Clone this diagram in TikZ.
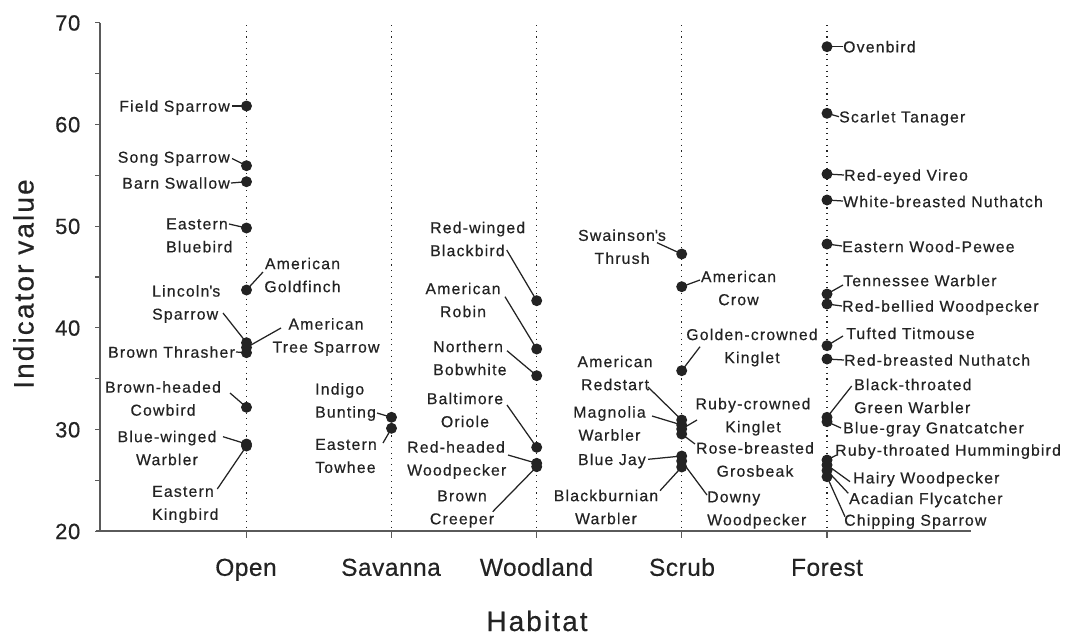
\documentclass[tikz,border=0pt]{standalone}
\usepackage{fontspec}
\setmainfont{Liberation Sans}
\newfontfamily\labfont[LetterSpace=7.5,FakeBold=0.5]{Liberation Sans}
\newfontfamily\axfont[LetterSpace=7.5,FakeBold=0.4]{Liberation Sans}
\newfontfamily\numfont[LetterSpace=3,FakeBold=0.4]{Liberation Sans}
\newfontfamily\catfont[LetterSpace=2,FakeBold=0.4]{Liberation Sans}
\definecolor{ink}{RGB}{35,35,35}
\definecolor{axcol}{RGB}{90,90,90}
\begin{document}
\begin{tikzpicture}[x=1pt,y=-1pt,
  lab/.style={inner sep=0pt, text=ink, font=\labfont\fontsize{15.8}{23}\selectfont},
  labL/.style={lab, align=left},
  labC/.style={lab, align=center},
  one/.style={lab, text height=11.4pt, text depth=0pt},
  dot/.style={circle, fill=ink, inner sep=0pt, minimum size=11pt},
  conn/.style={draw=ink, line width=1.25pt},
  guide/.style={draw=ink, line width=1.1pt, dash pattern=on 1.1pt off 4.6pt},
  axisline/.style={draw=axcol, line width=1.4pt},
  ticklab/.style={inner sep=0pt, text=ink, anchor=east, text height=15.7pt, text depth=0pt, font=\numfont\fontsize{22}{26}\selectfont},
  catlab/.style={inner sep=0pt, text=ink, text height=17.6pt, text depth=0pt, font=\catfont\fontsize{24.5}{28}\selectfont},
  titlelab/.style={inner sep=0pt, text=ink, text height=20pt, text depth=0pt, font=\axfont\fontsize{28}{32}\selectfont}
]
\useasboundingbox (0,0) rectangle (1065,635);

% guides
\foreach \gx in {246.5,391.5,536.7,681.7,827}{
  \draw[guide] (\gx,25) -- (\gx,529);
}

% axes
\draw[axisline] (95.5,531) -- (971,531);
\draw[axisline] (100,22.7) -- (100,531);
\foreach \v in {20,25,...,70}{
  \draw[axisline, line width=1.2pt] (95,{22.7+(70-\v)*10.17}) -- (100,{22.7+(70-\v)*10.17});
}
\foreach \gx in {246.5,391.5,536.7,681.7,827}{
  \draw[axisline, line width=1.2pt] (\gx,531) -- (\gx,537.5);
}
\foreach \v/\nm in {70/a,60/b,50/c,40/d,30/e,20/f}{
  \node[ticklab] (T-\nm) at (80.5,{22.7+(70-\v)*10.17}) {\v};
}
\node[catlab] (X-open) at (246,567) {Open};
\node[catlab] (X-sav) at (391,567) {Savanna};
\node[catlab] (X-wood) at (536.5,567) {Woodland};
\node[catlab] (X-scrub) at (682,567) {Scrub};
\node[catlab] (X-forest) at (827,567) {Forest};
\node[titlelab] (X-title) at (537,621) {Habitat};
\node[titlelab, rotate=90] (Y-title) at (23.5,284) {Indicator value};

% ---------- labels ----------
% Open
\node[one, anchor=east] (L-fs) at (230,106) {Field Sparrow};
\node[one, anchor=east] (L-ss) at (230,157) {Song Sparrow};
\node[one, anchor=east] (L-bs) at (230,183) {Barn Swallow};
\node[labL, anchor=west] (L-eb) at (166,235.5) {Eastern\\Bluebird};
\node[labC] (L-ag) at (302.5,275) {American\\Goldfinch};
\node[labL, anchor=west] (L-ls) at (152,304) {Lincoln\textquotesingle s\\Sparrow};
\node[labC] (L-ats) at (326,337) {American\\Tree Sparrow};
\node[one, anchor=east] (L-bt) at (235,352) {Brown Thrasher};
\node[labC] (L-bhc) at (163,398.5) {Brown-headed\\Cowbird};
\node[labC] (L-bww) at (167,448) {Blue-winged\\Warbler};
\node[labL, anchor=west] (L-ek) at (152,504.5) {Eastern\\Kingbird};
% Savanna
\node[labL, anchor=west] (L-ib) at (315,402) {Indigo\\Bunting};
\node[labL, anchor=west] (L-et) at (315,456) {Eastern\\Towhee};
% Woodland
\node[labL, anchor=west] (L-rwb) at (430,239) {Red-winged\\Blackbird};
\node[labC] (L-ar) at (463,300) {American\\Robin};
\node[labL, anchor=west] (L-nb) at (433,358) {Northern\\Bobwhite};
\node[labC] (L-bo) at (465,410) {Baltimore\\Oriole};
\node[labL, anchor=west] (L-rhw) at (407,460) {Red-headed\\Woodpecker};
\node[labC] (L-bc) at (462,509) {Brown\\Creeper};
% Scrub
\node[labC] (L-st) at (622,246.7) {Swainson\textquotesingle s\\Thrush};
\node[labC] (L-ac) at (738.5,288) {American\\Crow};
\node[labC] (L-gck) at (752,347.5) {Golden-crowned\\Kinglet};
\node[labC] (L-rs) at (615,373) {American\\Redstart};
\node[labC] (L-mw) at (609.5,423.5) {Magnolia\\Warbler};
\node[labC] (L-rck) at (753,416.7) {Ruby-crowned\\Kinglet};
\node[labC] (L-rbg) at (755,459.5) {Rose-breasted\\Grosbeak};
\node[one, anchor=east] (L-bj) at (646,459.3) {Blue Jay};
\node[labL, anchor=west] (L-dw) at (707,510) {Downy\\Woodpecker};
\node[labC] (L-bw) at (606,507) {Blackburnian\\Warbler};
% Forest
\node[one, anchor=west] (L-ov) at (843,46.7) {Ovenbird};
\node[one, anchor=west] (L-sct) at (839,116.7) {Scarlet Tanager};
\node[one, anchor=west] (L-rev) at (844,175) {Red-eyed Vireo};
\node[one, anchor=west] (L-wbn) at (843,201.5) {White-breasted Nuthatch};
\node[one, anchor=west] (L-ewp) at (842,246.5) {Eastern Wood-Pewee};
\node[one, anchor=west] (L-tw) at (843,280.5) {Tennessee Warbler};
\node[one, anchor=west] (L-rbw) at (842,306) {Red-bellied Woodpecker};
\node[one, anchor=west] (L-tt) at (846,333.3) {Tufted Titmouse};
\node[one, anchor=west] (L-rbn) at (844,360) {Red-breasted Nuthatch};
\node[labL, anchor=west] (L-btgw) at (854,396) {Black-throated\\Green Warbler};
\node[one, anchor=west] (L-bgg) at (843,427.7) {Blue-gray Gnatcatcher};
\node[one, anchor=west] (L-rth) at (835,450) {Ruby-throated Hummingbird};
\node[one, anchor=west] (L-hw) at (853,477.7) {Hairy Woodpecker};
\node[one, anchor=west] (L-af) at (849,498.3) {Acadian Flycatcher};
\node[one, anchor=west] (L-cs) at (844,520) {Chipping Sparrow};

% ---------- dots ----------
\foreach \nm/\px/\py in {
  fs/246.5/106, ss/246.5/165.7, bs/246.5/181.7, eb/246.5/228, ag/246.5/290,
  ls/246.5/342.7, ats/246.5/347.5, bt/246.5/352.7, bhc/246.5/407.3, bww/246.5/444, ek/246.5/446,
  ib/391.5/417.3, et/391.5/428.3,
  rwb/536.7/300.7, ar/536.7/349, nb/536.7/375.7, bo/536.7/447.3, rhw/536.7/463.3, bc/536.7/466.7,
  st/681.7/254, ac/681.7/286.7, gck/681.7/370.7, rs/681.7/420, mw/681.7/425, rck/681.7/429, rbg/681.7/434,
  bj/681.7/456, dw/681.7/461, bw/681.7/467,
  ov/827/46.7, sct/827/113.3, rev/827/174, wbn/827/200, ewp/827/244, tw/827/294, rbw/827/304,
  tt/827/345.7, rbn/827/359, btgw/827/417.3, bgg/827/421.7, rth/827/460, hw/827/465, af/827/470.5, cs/827/476.7}{
  \coordinate (P-\nm) at (\px,\py);
}

% ---------- connector ends ----------
\foreach \nm/\px/\py in {
  fs/232/106, ss/232/158.5, bs/231/183, eb/229/224, ag/263/272, ls/223/313, ats/281/328, bt/236/352,
  bhc/230/393, bww/223/436.7, ek/217.3/489,
  ib/377/413, et/383/443,
  rwb/506.7/250, ar/505/296.7, nb/507/350.7, bo/507/405, rhw/508/455, bc/492.7/511.7,
  st/657/242.7, ac/700/280, gck/700/346.7, rs/648/387, mw/652/416, rck/697/420, rbg/695/444,
  bj/648/459.3, dw/707/495, bw/660/490.7,
  ov/843/46.7, sct/839/116.7, rev/844/175, wbn/843/201, ewp/842/246, tw/843/285, rbw/842/306,
  tt/843/336, rbn/844/360, btgw/851.7/386, bgg/841/428, rth/836.7/455, hw/850/481.7, af/848.3/493.3, cs/845/516.7}{
  \coordinate (C-\nm) at (\px,\py);
  \draw[conn] (C-\nm) -- (P-\nm);
}

\foreach \nm in {fs,ss,bs,eb,ag,ls,ats,bt,bhc,bww,ek,ib,et,rwb,ar,nb,bo,rhw,bc,
  st,ac,gck,rs,mw,rck,rbg,bj,dw,bw,ov,sct,rev,wbn,ewp,tw,rbw,tt,rbn,btgw,bgg,rth,hw,af,cs}{
  \node[dot] (D-\nm) at (P-\nm) {};
}
\end{tikzpicture}
\end{document}
